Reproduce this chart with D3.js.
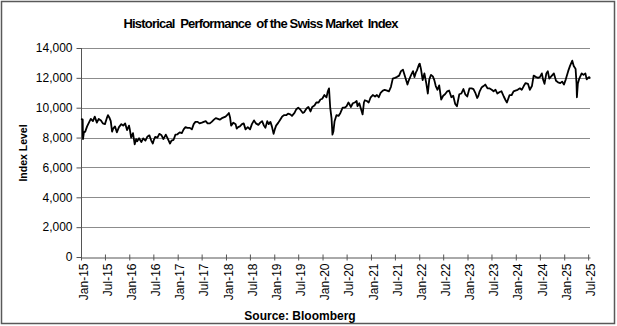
<!DOCTYPE html>
<html>
<head>
<meta charset="utf-8">
<script src="https://cdn.jsdelivr.net/npm/d3@7"></script>
<style>
	body { margin: 0; background: #fff; }
	svg { display: block; font-family: "Liberation Sans", Arial, sans-serif; }
	.grid line { stroke: #8c8c8c; stroke-width: 1; }
	.axis path, .axis line { stroke: #555; }
	.axis text { font-size: 12px; fill: #000; }
</style>
</head>
<body>
<svg id="chart" width="617" height="326"></svg>
<script>
	//DATA - SMI closing levels
	var smi2015 = [["2015-01-02", 9250], ["2015-01-14", 9200], ["2015-01-15", 8400], ["2015-01-16", 7900], ["2015-01-23", 8350], ["2015-02-02", 8400], ["2015-02-16", 8750], ["2015-03-02", 9000], ["2015-03-16", 9250], ["2015-04-01", 9100], ["2015-04-15", 9400], ["2015-05-01", 9000], ["2015-05-15", 9250], ["2015-06-01", 9150], ["2015-06-15", 8950], ["2015-07-01", 8900], ["2015-07-15", 9300], ["2015-07-24", 9500], ["2015-08-03", 9350], ["2015-08-14", 9100], ["2015-08-24", 8400], ["2015-09-01", 8600], ["2015-09-15", 8750], ["2015-09-29", 8350], ["2015-10-15", 8700], ["2015-11-02", 8900], ["2015-11-16", 8800], ["2015-12-01", 8950], ["2015-12-15", 8500], ["2015-12-30", 8800]];
	var smi2016 = [["2016-01-04", 8600], ["2016-01-15", 8000], ["2016-01-29", 8300], ["2016-02-11", 7550], ["2016-02-22", 7900], ["2016-03-01", 7750], ["2016-03-15", 7950], ["2016-04-01", 7700], ["2016-04-15", 7950], ["2016-05-02", 7800], ["2016-05-16", 8050], ["2016-06-01", 8150], ["2016-06-15", 7800], ["2016-06-27", 7600], ["2016-07-05", 7850], ["2016-07-15", 8050], ["2016-08-01", 8000], ["2016-08-15", 8250], ["2016-09-01", 8150], ["2016-09-15", 7900], ["2016-10-03", 8200], ["2016-10-17", 7950], ["2016-11-04", 7600], ["2016-11-15", 7800], ["2016-12-01", 7850], ["2016-12-15", 8200], ["2016-12-30", 8220]];
	var smi2017 = [["2017-01-16", 8350], ["2017-02-01", 8300], ["2017-02-15", 8550], ["2017-03-01", 8700], ["2017-03-15", 8650], ["2017-04-03", 8650], ["2017-04-18", 8550], ["2017-05-02", 8900], ["2017-05-15", 9050], ["2017-06-01", 9050], ["2017-06-15", 8950], ["2017-07-03", 9000], ["2017-07-17", 9050], ["2017-08-01", 9100], ["2017-08-15", 8950], ["2017-09-01", 8950], ["2017-09-15", 9050], ["2017-10-02", 9200], ["2017-10-16", 9300], ["2017-11-01", 9250], ["2017-11-15", 9200], ["2017-12-01", 9300], ["2017-12-15", 9350], ["2017-12-29", 9400]];
	var smi2018 = [["2018-01-15", 9550], ["2018-01-23", 9650], ["2018-02-01", 9350], ["2018-02-09", 8800], ["2018-02-26", 9000], ["2018-03-15", 8900], ["2018-03-23", 8600], ["2018-04-03", 8700], ["2018-04-16", 8750], ["2018-05-02", 8900], ["2018-05-15", 8950], ["2018-05-29", 8550], ["2018-06-15", 8700], ["2018-07-02", 8550], ["2018-07-16", 8900], ["2018-08-01", 9150], ["2018-08-15", 8950], ["2018-09-03", 8850], ["2018-09-17", 9000], ["2018-10-01", 9100], ["2018-10-15", 8800], ["2018-10-26", 8650], ["2018-11-09", 9100], ["2018-11-20", 8900], ["2018-12-03", 9050], ["2018-12-14", 8750], ["2018-12-27", 8250]];
	var smi2019 = [["2019-01-07", 8600], ["2019-01-15", 8800], ["2019-02-01", 9000], ["2019-02-15", 9200], ["2019-03-01", 9400], ["2019-03-15", 9500], ["2019-04-01", 9500], ["2019-04-15", 9600], ["2019-05-02", 9550], ["2019-05-15", 9450], ["2019-06-03", 9650], ["2019-06-17", 9900], ["2019-07-01", 10000], ["2019-07-15", 9900], ["2019-08-05", 9650], ["2019-08-15", 9700], ["2019-09-02", 9950], ["2019-09-16", 10050], ["2019-10-02", 9750], ["2019-10-15", 10050], ["2019-11-01", 10150], ["2019-11-15", 10350], ["2019-12-02", 10350], ["2019-12-16", 10550], ["2019-12-30", 10600]];
	var smi2020 = [["2020-01-15", 10850], ["2020-01-31", 10700], ["2020-02-10", 11100], ["2020-02-19", 11300], ["2020-02-28", 10000], ["2020-03-09", 9300], ["2020-03-16", 8200], ["2020-03-23", 8400], ["2020-04-01", 9100], ["2020-04-15", 9500], ["2020-05-01", 9450], ["2020-05-15", 9650], ["2020-06-01", 10000], ["2020-06-15", 10000], ["2020-07-01", 10100], ["2020-07-15", 10350], ["2020-08-03", 10050], ["2020-08-17", 10300], ["2020-09-01", 10350], ["2020-09-15", 10450], ["2020-09-21", 10100], ["2020-10-05", 10300], ["2020-10-15", 10000], ["2020-10-30", 9550], ["2020-11-09", 10350], ["2020-11-16", 10500], ["2020-12-01", 10450], ["2020-12-15", 10350], ["2020-12-30", 10700]];
	var smi2021 = [["2021-01-15", 10850], ["2021-02-01", 10750], ["2021-02-15", 10850], ["2021-03-01", 10700], ["2021-03-15", 11000], ["2021-04-01", 11150], ["2021-04-15", 11200], ["2021-05-03", 11150], ["2021-05-17", 11100], ["2021-06-01", 11400], ["2021-06-15", 11950], ["2021-07-01", 12000], ["2021-07-15", 12050], ["2021-08-02", 12150], ["2021-08-16", 12450], ["2021-08-31", 12550], ["2021-09-15", 12100], ["2021-10-04", 11550], ["2021-10-15", 11850], ["2021-11-01", 12200], ["2021-11-15", 12450], ["2021-11-26", 12050], ["2021-12-06", 12350], ["2021-12-15", 12500], ["2021-12-30", 12900]];
	var smi2022 = [["2022-01-05", 12950], ["2022-01-14", 12600], ["2022-01-27", 11850], ["2022-02-09", 12300], ["2022-02-24", 11600], ["2022-03-07", 10950], ["2022-03-18", 11900], ["2022-03-31", 12200], ["2022-04-14", 12100], ["2022-04-25", 11850], ["2022-05-06", 11450], ["2022-05-19", 11200], ["2022-06-01", 11500], ["2022-06-16", 10550], ["2022-07-01", 10800], ["2022-07-15", 10900], ["2022-08-01", 11100], ["2022-08-15", 11150], ["2022-09-01", 10700], ["2022-09-15", 10800], ["2022-09-30", 10250], ["2022-10-13", 10100], ["2022-10-31", 10900], ["2022-11-15", 10950], ["2022-12-01", 11250], ["2022-12-15", 10900], ["2022-12-30", 10750]];
	var smi2023 = [["2023-01-16", 11300], ["2023-02-01", 11300], ["2023-02-15", 11250], ["2023-03-01", 11000], ["2023-03-15", 10650], ["2023-03-24", 10800], ["2023-04-03", 11100], ["2023-04-17", 11350], ["2023-05-02", 11450], ["2023-05-15", 11550], ["2023-06-01", 11300], ["2023-06-15", 11300], ["2023-07-03", 11200], ["2023-07-17", 11100], ["2023-08-01", 11200], ["2023-08-15", 10950], ["2023-09-01", 11050], ["2023-09-15", 11100], ["2023-10-02", 10750], ["2023-10-16", 10500], ["2023-10-26", 10350], ["2023-11-15", 10850], ["2023-12-01", 10850], ["2023-12-15", 11100], ["2023-12-29", 11150]];
	var smi2024 = [["2024-01-15", 11200], ["2024-02-01", 11300], ["2024-02-15", 11200], ["2024-03-01", 11450], ["2024-03-15", 11650], ["2024-04-02", 11600], ["2024-04-16", 11200], ["2024-05-02", 11450], ["2024-05-15", 12150], ["2024-06-03", 12050], ["2024-06-17", 12000], ["2024-07-01", 12050], ["2024-07-16", 12300], ["2024-07-25", 11900], ["2024-08-05", 11600], ["2024-08-19", 12300], ["2024-08-30", 12450], ["2024-09-10", 11950], ["2024-09-30", 12150], ["2024-10-15", 12300], ["2024-10-31", 11800], ["2024-11-15", 11700], ["2024-12-02", 11650], ["2024-12-16", 11750], ["2024-12-30", 11550]];
	var smi2025 = [["2025-01-13", 11900], ["2025-01-31", 12450], ["2025-02-14", 12800], ["2025-03-03", 13150], ["2025-03-14", 12800], ["2025-03-28", 12600], ["2025-04-04", 11650], ["2025-04-07", 10700], ["2025-04-14", 11600], ["2025-04-25", 11950], ["2025-05-13", 12300], ["2025-05-27", 12200], ["2025-06-10", 12300], ["2025-06-20", 11900], ["2025-07-01", 12000], ["2025-07-10", 12050], ["2025-07-15", 11950]];

	var yTicks = [0, 2000, 4000, 6000, 8000, 10000, 12000, 14000];
	var xStart = "2015-01-01", xEnd = "2025-07-15";

	(function () {
		var parseDate = d3.timeParse("%Y-%m-%d");
		var series = [].concat(smi2015, smi2016, smi2017, smi2018, smi2019, smi2020,
			smi2021, smi2022, smi2023, smi2024, smi2025).map(function (d) {
				return { date: parseDate(d[0]), value: d[1] };
			});

		var svg = d3.select("#chart");
		var plotLeft = 81, plotRight = 590, plotTop = 48, plotBottom = 257;

		var x = d3.scaleTime().domain([parseDate(xStart), parseDate(xEnd)]).range([plotLeft, plotRight]);
		var y = d3.scaleLinear().domain([0, 14000]).range([plotBottom, plotTop]);

		// outer frame
		svg.append("rect")
			.attr("x", 1.5).attr("y", 1.5).attr("width", 613).attr("height", 322)
			.attr("fill", "none").attr("stroke", "#595959").attr("stroke-width", 1.5);

		// gridlines
		svg.append("g").attr("class", "grid")
			.selectAll("line").data(yTicks.filter(function (d) { return d > 0; }))
			.enter().append("line")
			.attr("x1", plotLeft).attr("x2", plotRight)
			.attr("y1", function (d) { return Math.round(y(d)) + 0.5; })
			.attr("y2", function (d) { return Math.round(y(d)) + 0.5; });

		// y axis
		var yAxis = svg.append("g").attr("class", "axis")
			.attr("transform", "translate(" + (plotLeft + 0.5) + ",0)")
			.call(d3.axisLeft(y).tickValues(yTicks).tickSize(5).tickPadding(4)
				.tickFormat(d3.format(",")));
		yAxis.select(".domain").attr("d", "M0," + plotTop + "V" + plotBottom);

		// x axis, ticks every six months, crossing the axis line
		var xTicks = d3.timeMonth.every(6).range(parseDate(xStart), parseDate("2025-07-02"));
		var xAxis = svg.append("g").attr("class", "axis")
			.attr("transform", "translate(0," + (plotBottom + 0.5) + ")")
			.call(d3.axisBottom(x).tickValues(xTicks).tickSize(3).tickSizeOuter(0)
				.tickFormat(d3.timeFormat("%b-%y")));
		xAxis.selectAll(".tick line").attr("y1", -3);
		xAxis.selectAll(".tick text")
			.attr("transform", "rotate(-90)")
			.attr("text-anchor", "end")
			.attr("x", -6).attr("y", 2).attr("dy", "0.35em");

		// the index line
		var line = d3.line()
			.x(function (d) { return x(d.date); })
			.y(function (d) { return y(d.value); });
		svg.append("path").datum(series)
			.attr("d", line)
			.attr("fill", "none")
			.attr("stroke", "#000")
			.attr("stroke-width", 1.8)
			.attr("stroke-linejoin", "round");

		// texts
		svg.append("text")
			.attr("x", 261).attr("y", 28)
			.attr("text-anchor", "middle")
			.style("font-size", "13px").style("font-weight", "bold")
			.attr("textLength", 275).attr("lengthAdjust", "spacing")
			.attr("xml:space", "preserve")
			.text("Historical  Performance  of the Swiss Market  Index");

		svg.append("text")
			.attr("transform", "translate(27,153) rotate(-90)")
			.attr("text-anchor", "middle")
			.style("font-size", "10.5px").style("font-weight", "bold")
			.text("Index Level");

		svg.append("text")
			.attr("x", 300).attr("y", 320)
			.attr("text-anchor", "middle")
			.style("font-size", "12px").style("font-weight", "bold")
			.text("Source: Bloomberg");
	})();
</script>
</body>
</html>
